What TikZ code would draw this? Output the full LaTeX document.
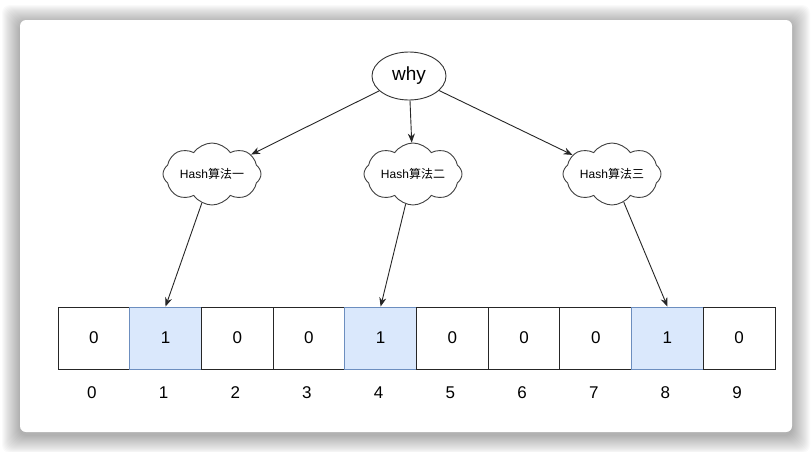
\documentclass[tikz,border=0pt]{standalone}
\usepackage{fontspec}
\setmainfont{Liberation Sans}
\newfontfamily\cjk{Noto Sans CJK SC}
\usetikzlibrary{shapes.geometric,shapes.symbols,arrows.meta}
\definecolor{cellblue}{HTML}{DAE8FC}
\definecolor{cellline}{HTML}{6C8EBF}
\tikzset{
	cell/.style={draw=black!85, fill=white, line width=0.9pt, minimum width=71.7pt, minimum height=62pt, inner sep=0pt, font=\fontsize{17}{17}\selectfont},
	setcell/.style={cell, draw=cellline, fill=cellblue},
	hashcloud/.style={cloud, cloud puffs=8, cloud puff arc=110, cloud ignores aspect, draw=black!75, line width=0.9pt, minimum width=98pt, minimum height=62pt, inner sep=0pt, font=\fontsize{12}{12}\selectfont},
	link/.style={-{Stealth[length=9pt,width=7pt]}, line width=0.9pt, black!85}
}

\begin{document}
\begin{tikzpicture}[x=1pt, y=-1pt]
	\useasboundingbox (0,0) rectangle (812,451);
	% card with soft shadow
	\foreach \s in {1,...,18}
		\fill[black, opacity=0.018, rounded corners=8pt] (20-\s,20-\s+3) rectangle (792+\s,432+\s+3);
	\fill[white, rounded corners=6pt] (20,20) rectangle (792,432);
	
	\node[ellipse, draw=black!80, line width=0.9pt, minimum width=74pt, minimum height=48pt, font=\fontsize{19}{19}\selectfont] (why) at (409,76) {why};
	
	\node[hashcloud] (h1) at (212,174) {Hash{\cjk 算法一}};
	\node[hashcloud] (h2) at (413,174) {Hash{\cjk 算法二}};
	\node[hashcloud] (h3) at (612,174) {Hash{\cjk 算法三}};
	
	% bit array
	\foreach \i/\b in {0/0,1/1,2/0,3/0,4/1,5/0,6/0,7/0,8/1,9/0}{
		\ifnum\b=1
			\node[setcell] (b\i) at ({58+71.7*(\i+0.5)},338) {\b};
		\else
			\node[cell] (b\i) at ({58+71.7*(\i+0.5)},338) {\b};
		\fi
		\node[font=\fontsize{17}{17}\selectfont] (n\i) at ({56+71.7*(\i+0.5)},393) {\i};
	}
	
	\draw[link] (why) -- (h1);
	\draw[link] (why) -- (h2);
	\draw[link] (why) -- (h3);
	
	\draw[link] (h1) -- (b1.north);
	\draw[link] (h2) -- (b4.north);
	\draw[link] (h3) -- (b8.north);
\end{tikzpicture}
\end{document}
